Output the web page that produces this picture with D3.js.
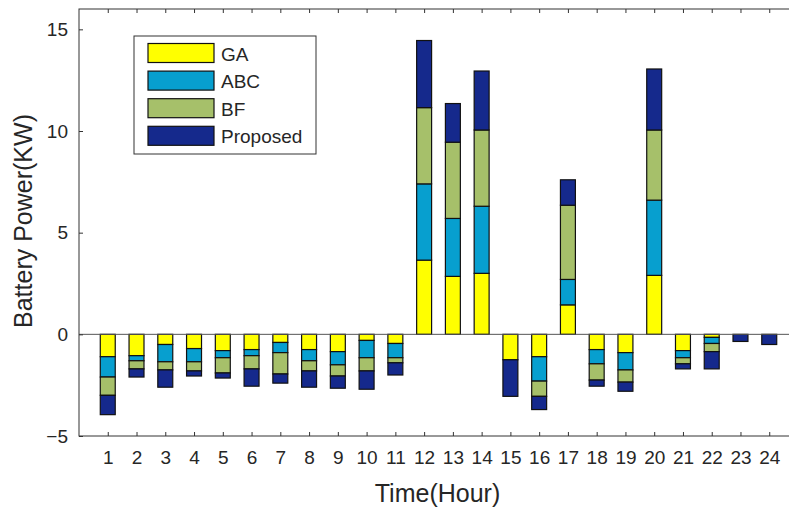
<!DOCTYPE html>
<html lang="en">
  <head>
    <meta charset="UTF-8" />
    <title>Battery Power</title>
    <script type="text/javascript" src="https://cdn.jsdelivr.net/npm/d3@7"></script>
  </head>
  <body>
  </body>
  <style>
    body {
      margin: 0;
      background: #ffffff;
    }
    text {
      font-family: "Liberation Sans", Arial, sans-serif;
      fill: #262626;
    }
  </style>
  <script>
    var hours = d3.range(1, 25);
    var seriesNames = ["GA", "ABC", "BF", "Proposed"];
    var colors = ["#ffff00", "#079fcf", "#a6c06a", "#15298c"];

    var ga = [-1.1, -1.05, -0.5, -0.7, -0.8, -0.75, -0.4, -0.75, -0.85, -0.3, -0.45, 3.65,
      2.85, 3.0, -1.25, -1.1, 1.45, -0.75, -0.9, 2.9, -0.8, -0.15, 0, 0];
    var abc = [-1.0, -0.25, -0.85, -0.65, -0.35, -0.3, -0.5, -0.55, -0.65, -0.85, -0.7, 3.75,
      2.85, 3.3, 0, -1.2, 1.25, -0.7, -0.85, 3.7, -0.35, -0.3, 0, 0];
    var bf = [-0.9, -0.4, -0.4, -0.45, -0.75, -0.65, -1.05, -0.5, -0.55, -0.65, -0.25, 3.75,
      3.75, 3.75, 0, -0.75, 3.65, -0.8, -0.6, 3.45, -0.3, -0.4, 0, 0];
    var proposed = [-0.95, -0.4, -0.85, -0.25, -0.25, -0.85, -0.45, -0.8, -0.6, -0.9, -0.6, 3.3,
      1.9, 2.9, -1.8, -0.65, 1.25, -0.3, -0.45, 3.0, -0.25, -0.85, -0.35, -0.5];

    var yTicks = [-5, 0, 5, 10, 15];

    var table = hours.map(function (h, i) {
      return { hour: h, GA: ga[i], ABC: abc[i], BF: bf[i], Proposed: proposed[i] };
    });

    var width = 789, height = 508;
    var mLeft = 79, mTop = 9, plotW = 719, plotH = 427;

    var svg = d3
      .select("body")
      .append("svg")
      .attr("width", width)
      .attr("height", height);

    var x = d3.scaleLinear().domain([0, 25]).range([mLeft, mLeft + plotW]);
    var y = d3.scaleLinear().domain([-5, 16]).range([mTop + plotH, mTop]);
    var barW = x(0.52) - x(0);

    var stacked = d3
      .stack()
      .keys(seriesNames)
      .offset(d3.stackOffsetDiverging)(table);

    // bars
    var layers = svg
      .selectAll("g.layer")
      .data(stacked)
      .enter()
      .append("g")
      .attr("class", "layer")
      .attr("fill", function (d, i) {
        return colors[i];
      });

    layers
      .selectAll("rect")
      .data(function (d) {
        return d;
      })
      .enter()
      .append("rect")
      .attr("x", function (d) {
        return x(d.data.hour) - barW / 2;
      })
      .attr("y", function (d) {
        return y(Math.max(d[0], d[1]));
      })
      .attr("width", barW)
      .attr("height", function (d) {
        return Math.abs(y(d[0]) - y(d[1]));
      })
      .attr("stroke", "#111")
      .attr("stroke-width", 1.2);

    // zero baseline
    svg
      .append("line")
      .attr("x1", x(0))
      .attr("x2", x(25))
      .attr("y1", y(0))
      .attr("y2", y(0))
      .attr("stroke", "#555")
      .attr("stroke-width", 1);

    // axes box
    svg
      .append("rect")
      .attr("x", x(0))
      .attr("y", y(16))
      .attr("width", x(25) - x(0))
      .attr("height", y(-5) - y(16))
      .attr("fill", "none")
      .attr("stroke", "#333")
      .attr("stroke-width", 1);

    var xAxis = svg
      .append("g")
      .attr("transform", "translate(0," + y(-5) + ")")
      .call(d3.axisBottom(x).tickValues(hours).tickSizeInner(-4).tickSizeOuter(0).tickPadding(15));
    xAxis.select(".domain").remove();
    xAxis.selectAll("line").attr("stroke", "#333");
    xAxis.selectAll("text").attr("font-size", 19).attr("fill", "#262626");

    var xTop = svg
      .append("g")
      .attr("transform", "translate(0," + y(16) + ")")
      .call(d3.axisTop(x).tickValues(hours).tickSizeInner(-4).tickSizeOuter(0).tickFormat(""));
    xTop.select(".domain").remove();
    xTop.selectAll("line").attr("stroke", "#333");

    var yAxis = svg
      .append("g")
      .attr("transform", "translate(" + x(0) + ",0)")
      .call(d3.axisLeft(y).tickValues(yTicks).tickSizeInner(-4).tickSizeOuter(0).tickPadding(11));
    yAxis.select(".domain").remove();
    yAxis.selectAll("line").attr("stroke", "#333");
    yAxis.selectAll("text").attr("font-size", 19).attr("fill", "#262626");

    // axis labels
    svg
      .append("text")
      .attr("x", x(12.5) - 1)
      .attr("y", 502)
      .attr("text-anchor", "middle")
      .attr("font-size", 25)
      .text("Time(Hour)");

    svg
      .append("text")
      .attr("transform", "translate(32," + 221 + ") rotate(-90)")
      .attr("text-anchor", "middle")
      .attr("font-size", 25)
      .text("Battery Power(KW)");

    // legend
    var legend = svg.append("g").attr("transform", "translate(134,36)");
    legend
      .append("rect")
      .attr("width", 182)
      .attr("height", 118)
      .attr("fill", "#fff")
      .attr("stroke", "#333")
      .attr("stroke-width", 1);

    var items = legend
      .selectAll("g.item")
      .data(seriesNames)
      .enter()
      .append("g")
      .attr("class", "item")
      .attr("transform", function (d, i) {
        return "translate(14," + (7.5 + i * 27.6) + ")";
      });

    items
      .append("rect")
      .attr("width", 66)
      .attr("height", 19)
      .attr("fill", function (d, i) {
        return colors[i];
      })
      .attr("stroke", "#111")
      .attr("stroke-width", 1.2);

    items
      .append("text")
      .attr("x", 73)
      .attr("y", 17)
      .attr("font-size", 19)
      .text(function (d) {
        return d;
      });
  </script>
</html>
